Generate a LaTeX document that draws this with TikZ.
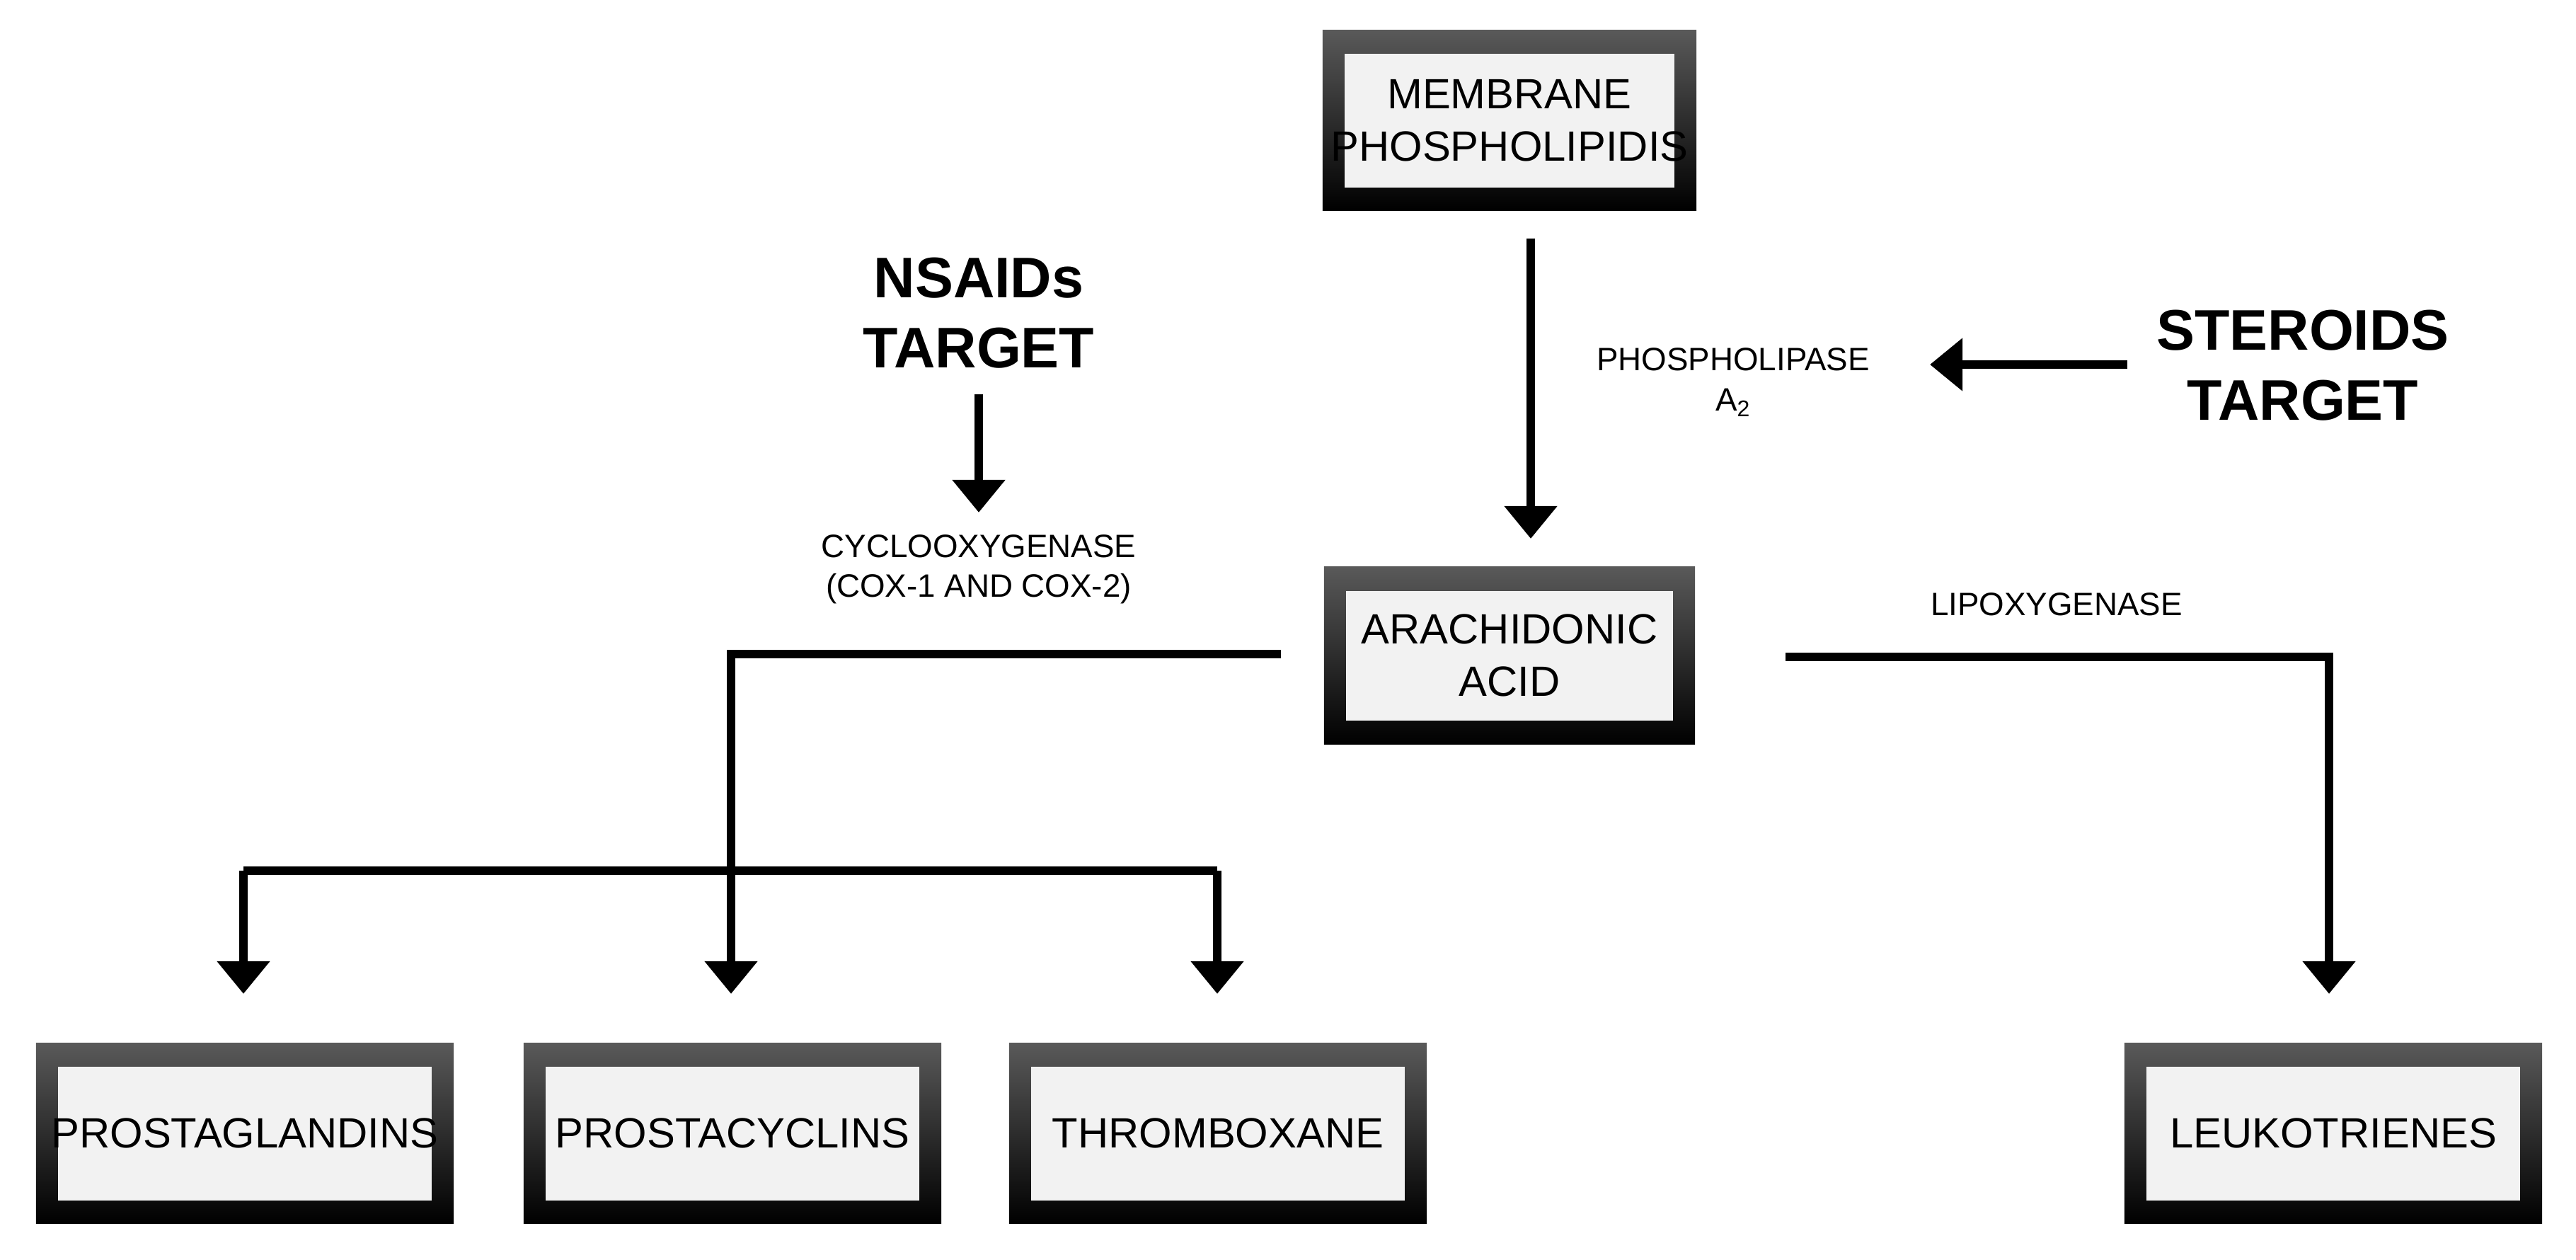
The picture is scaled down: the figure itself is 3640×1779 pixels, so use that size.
\documentclass[tikz,border=0pt]{standalone}
\usepackage{fontspec}
\setmainfont{Liberation Sans}
\usetikzlibrary{arrows.meta}
\begin{document}
\begin{tikzpicture}[x=0.01cm,y=-0.01cm,
 box/.style={minimum width=5.2cm,minimum height=2.5cm,top color=black!65,bottom color=black,draw=none,
   path picture={\fill[black!5] ([xshift=0.31cm,yshift=-0.34cm]path picture bounding box.north west) rectangle ([xshift=-0.31cm,yshift=0.33cm]path picture bounding box.south east);},
   font=\fontsize{17}{21}\selectfont,align=center,text=black},
 ln/.style={line width=0.12cm},
 ar/.style={ln,-{Triangle[length=0.46cm,width=0.72cm]}},
 lab/.style={font=\fontsize{13}{16}\selectfont,align=center},
 tgt/.style={font=\bfseries\fontsize{23}{28}\selectfont,align=center}]
\useasboundingbox (0,0) rectangle (3640,1779);
\node[box,minimum width=5.24cm,minimum height=2.55cm] (mem) at (2133,170) {MEMBRANE\\PHOSPHOLIPIDIS};
\node[box,minimum width=5.24cm] (ara) at (2133,926) {ARACHIDONIC\\ACID};
\node[box,minimum width=5.9cm,minimum height=2.55cm] (pg) at (346,1601) {PROSTAGLANDINS};
\node[box,minimum width=5.9cm,minimum height=2.55cm] (pc) at (1035,1601) {PROSTACYCLINS};
\node[box,minimum width=5.9cm,minimum height=2.55cm] (tx) at (1721,1601) {THROMBOXANE};
\node[box,minimum width=5.9cm,minimum height=2.55cm] (lt) at (3297,1601) {LEUKOTRIENES};
\node[tgt] (ster) at (3254,516) {STEROIDS\\TARGET};
\node[tgt] (nsaid) at (1383,442) {NSAIDs\\TARGET};
\node[lab] (pla) at (2449,540) {PHOSPHOLIPASE\\A\textsubscript{2}};
\node[lab] (cox) at (1383,804) {CYCLOOXYGENASE\\(COX-1 AND COX-2)};
\node[lab] (lox) at (2906,854) {LIPOXYGENASE};
\coordinate (m1) at (2163,337);
\coordinate (a1) at (2163,761);
\draw[ar] (m1) -- (a1);
\coordinate (s1) at (3006,515);
\coordinate (s2) at (2727,515);
\draw[ar] (s1) -- (s2);
\coordinate (n1) at (1383,557);
\coordinate (n2) at (1383,724);
\draw[ar] (n1) -- (n2);
\coordinate (l0) at (1810,924);
\coordinate (l1) at (1033,924);
\coordinate (l2) at (1033,1404);
\draw[ar] (l0) -- (l1) -- (l2);
\coordinate (b1) at (344,1404);
\coordinate (b2) at (344,1230);
\coordinate (b3) at (1720,1230);
\coordinate (b4) at (1720,1404);
\draw[ar] (b2) -- (b1);
\draw[ln] (b2) -- (b3);
\draw[ar] (b3) -- (b4);
\coordinate (r0) at (2523,928);
\coordinate (r1) at (3291,928);
\coordinate (r2) at (3291,1404);
\draw[ar] (r0) -- (r1) -- (r2);
\end{tikzpicture}
\end{document}
